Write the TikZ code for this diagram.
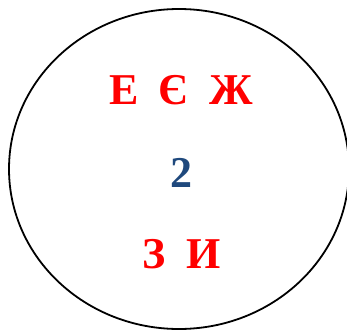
\documentclass[tikz,border=0pt]{standalone}
\usepackage{fontspec}
\setmainfont{Liberation Serif}
\usetikzlibrary{shapes.geometric}
\definecolor{letterred}{HTML}{FF0000}
\definecolor{digitblue}{HTML}{1F497D}
\tikzset{
  letter/.style={inner sep=0pt, anchor=base, text=letterred, font=\fontsize{44}{44}\selectfont\bfseries},
  digit/.style={inner sep=0pt, anchor=base, text=digitblue, font=\fontsize{44}{44}\selectfont\bfseries},
  ring/.style={draw=black, line width=1.8pt}
}
\begin{document}
\begin{tikzpicture}[x=1pt,y=1pt]
\useasboundingbox (0,0) rectangle (347,-329);
\clip (0,0) rectangle (347,-329);
\node[ring, ellipse, minimum width=340pt, minimum height=320pt, inner sep=0pt] (oval) at (179,-169) {};
\node[letter] (e) at (124,-104) {Е};
\node[letter] (ye) at (173.5,-104) {Є};
\node[letter] (zh) at (231.5,-104) {Ж};
\node[digit] (two) at (181.5,-187) {2};
\node[letter] (z) at (154.5,-268) {З};
\node[letter] (y) at (203.5,-268) {И};
\end{tikzpicture}
\end{document}
